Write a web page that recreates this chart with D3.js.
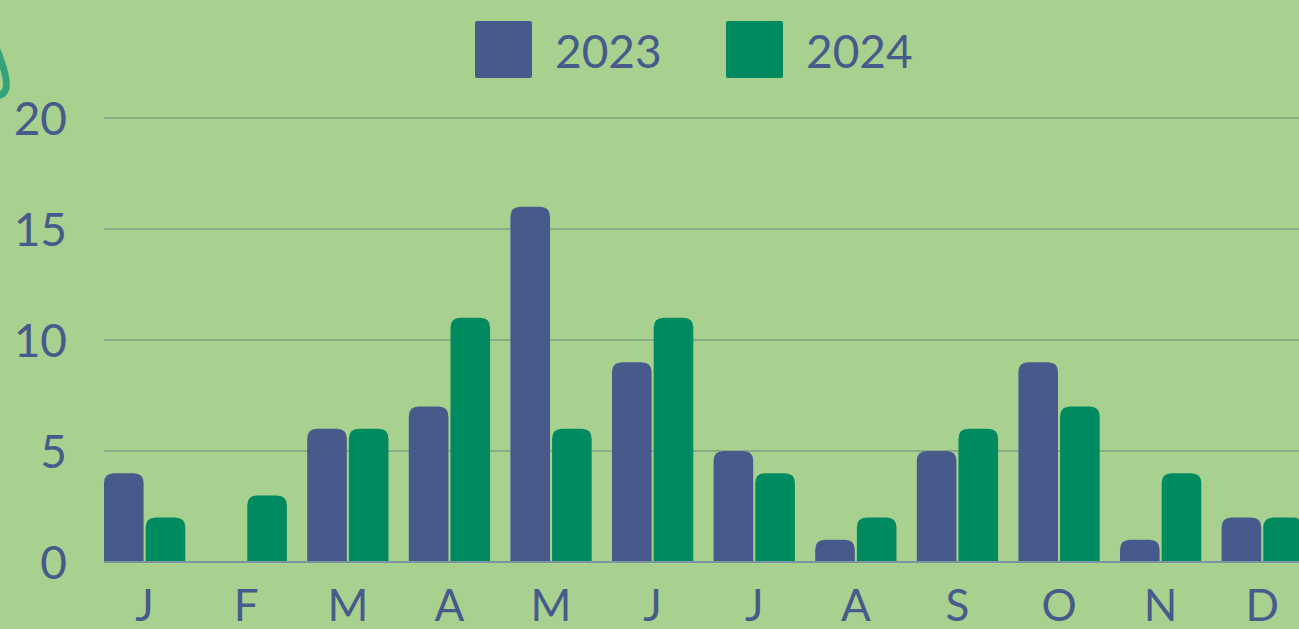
<!DOCTYPE html>
<html>
<head>
<meta charset="utf-8">
<script src="https://cdn.jsdelivr.net/npm/d3@7"></script>
<style>
html,body{margin:0;padding:0;background:#a8d08e;overflow:hidden;}
text{font-family:"Lato","Noto Sans",sans-serif;fill:#485a8c;}
</style>
</head>
<body>
<div id="chart"></div>
<script>
const meses = ["J","F","M","A","M","J","J","A","S","O","N","D"];
const series = ["2023","2024"];
const valores2023 = [4,0,6,7,16,9,5,1,5,9,1,2];
const valores2024 = [2,3,6,11,6,11,4,2,6,7,4,2];
const ticksY = [0,5,10,15,20];
const colores = ["#485a8c","#008a60"];

const width = 1299, height = 629;

const svg = d3.select("#chart").append("svg")
  .attr("width", width).attr("height", height);

svg.append("rect").attr("width", width).attr("height", height).attr("fill", "#a8d08e");

// decoration top-left
svg.append("path")
  .attr("d", "M -3,50 Q 10,82 5,91 Q 1,97 -6,95")
  .attr("fill", "none")
  .attr("stroke", "#34a27a")
  .attr("stroke-width", 7)
  .attr("stroke-linecap", "round");

const datos = meses.map((m, i) => ({ i, mes: m, v: [valores2023[i], valores2024[i]] }));

const paso = 101.6;
const x = d3.scaleBand()
  .domain(d3.range(meses.length))
  .range([104, 104 + paso * (meses.length - 0.2)])
  .paddingInner(0.2)
  .paddingOuter(0);

const xs = d3.scaleBand()
  .domain([0, 1])
  .range([0, x.bandwidth()])
  .paddingInner(0.05);

const y = d3.scaleLinear().domain([0, 20]).range([562, 118]);

// grid
svg.append("g").selectAll("line")
  .data(ticksY.filter(t => t > 0))
  .enter().append("line")
  .attr("x1", 104).attr("x2", width)
  .attr("y1", d => y(d)).attr("y2", d => y(d))
  .attr("stroke", "#8bab86").attr("stroke-width", 2);

// y labels
svg.append("g").selectAll("text")
  .data(ticksY)
  .enter().append("text")
  .attr("x", 67)
  .attr("y", d => y(d))
  .attr("dy", "0.36em")
  .attr("text-anchor", "end")
  .style("font-size", "46px")
  .text(d => d);

// bars with rounded tops
function barra(x0, w, y0, y1, r) {
  const h = y0 - y1;
  if (h <= 0) return "";
  r = Math.min(r, w / 2, h);
  return `M${x0},${y0}V${y1 + r}Q${x0},${y1} ${x0 + r},${y1}H${x0 + w - r}Q${x0 + w},${y1} ${x0 + w},${y1 + r}V${y0}Z`;
}

const grupos = svg.append("g").selectAll("g")
  .data(datos).enter().append("g")
  .attr("transform", d => `translate(${x(d.i)},0)`);

grupos.selectAll("path")
  .data(d => d.v.map((v, k) => ({ v, k })))
  .enter().append("path")
  .attr("d", d => barra(xs(d.k), xs.bandwidth(), y(0), y(d.v), 10))
  .attr("fill", d => colores[d.k]);

// baseline
svg.append("line")
  .attr("x1", 104).attr("x2", width)
  .attr("y1", y(0)).attr("y2", y(0))
  .attr("stroke", "#7d93a0").attr("stroke-width", 2);

// month labels
svg.append("g").selectAll("text")
  .data(datos).enter().append("text")
  .attr("x", d => x(d.i) + x.bandwidth() / 2)
  .attr("y", 621)
  .attr("text-anchor", "middle")
  .style("font-size", "44px")
  .text(d => d.mes);

// legend
const leyenda = svg.append("g");
const posLeyenda = [475, 726];
series.forEach((s, k) => {
  leyenda.append("rect")
    .attr("x", posLeyenda[k]).attr("y", 21)
    .attr("width", 57).attr("height", 57)
    .attr("rx", 2)
    .attr("fill", colores[k]);
  leyenda.append("text")
    .attr("x", posLeyenda[k] + 80).attr("y", 68)
    .style("font-size", "46px")
    .text(s);
});
</script>
</body>
</html>
